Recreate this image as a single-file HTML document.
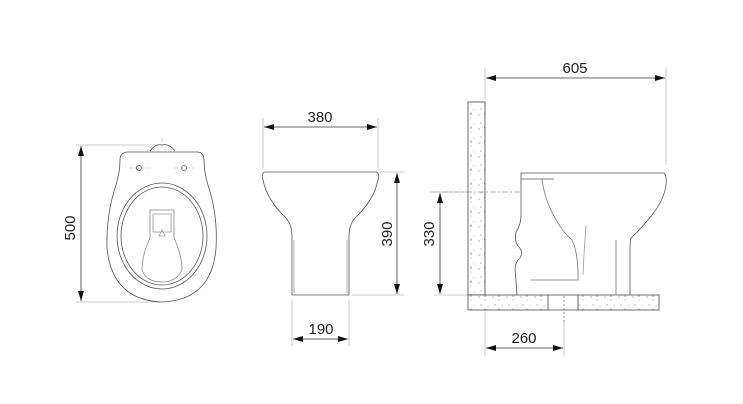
<!DOCTYPE html>
<html><head><meta charset="utf-8"><style>
html,body{margin:0;padding:0;background:#fff;}
svg{display:block;}
text{font-family:"Liberation Sans",sans-serif;font-size:15px;fill:#222;}
</style></head><body>
<svg width="743" height="404" viewBox="0 0 743 404" xmlns="http://www.w3.org/2000/svg">
<defs>
<marker id="a" markerWidth="10" markerHeight="6" refX="0" refY="3" orient="auto" markerUnits="userSpaceOnUse"><path d="M0,3 L10,0 L10,6 z" fill="#111"/></marker>
<marker id="b" markerWidth="10" markerHeight="6" refX="10" refY="3" orient="auto" markerUnits="userSpaceOnUse"><path d="M10,3 L0,0 L0,6 z" fill="#111"/></marker>
<pattern id="c" width="14" height="14" patternUnits="userSpaceOnUse">
<rect width="14" height="14" fill="#fff"/>
<circle cx="3" cy="3" r="0.6" fill="#888"/><circle cx="9" cy="6" r="0.5" fill="#888"/><circle cx="5" cy="11" r="0.6" fill="#888"/><circle cx="12" cy="12" r="0.5" fill="#888"/>
<path d="M8,1 l2,0 l-1,2z" fill="none" stroke="#999" stroke-width="0.5"/>
</pattern>
</defs>
<g stroke="#bbb" stroke-width="0.8" fill="none">
<line x1="76" y1="145" x2="158" y2="145"/>
<line x1="76" y1="302" x2="160" y2="302"/>
<line x1="263" y1="118" x2="263" y2="168"/>
<line x1="378" y1="118" x2="378" y2="168"/>
<line x1="380" y1="172" x2="404" y2="172"/>
<line x1="352" y1="295" x2="404" y2="295"/>
<line x1="292" y1="300" x2="292" y2="346"/>
<line x1="349" y1="300" x2="349" y2="346"/>
<line x1="485" y1="68" x2="485" y2="100"/>
<line x1="666" y1="68" x2="666" y2="165"/>
<line x1="434" y1="192" x2="470" y2="192"/>
<line x1="434" y1="295" x2="470" y2="295"/>
<line x1="485" y1="311" x2="485" y2="356"/>
<line x1="564" y1="322" x2="564" y2="356"/>
</g>
<g stroke="#333" stroke-width="0.8">
<line x1="81" y1="146" x2="81" y2="301" marker-start="url(#a)" marker-end="url(#b)"/>
<line x1="264" y1="127" x2="377" y2="127" marker-start="url(#a)" marker-end="url(#b)"/>
<line x1="397" y1="173" x2="397" y2="294" marker-start="url(#a)" marker-end="url(#b)"/>
<line x1="293" y1="339" x2="348" y2="339" marker-start="url(#a)" marker-end="url(#b)"/>
<line x1="486" y1="78" x2="665" y2="78" marker-start="url(#a)" marker-end="url(#b)"/>
<line x1="440" y1="193" x2="440" y2="294" marker-start="url(#a)" marker-end="url(#b)"/>
<line x1="486" y1="348" x2="563" y2="348" marker-start="url(#a)" marker-end="url(#b)"/>
</g>
<text x="75" y="228" text-anchor="middle" transform="rotate(-90 75 228)">500</text>
<text x="320" y="122" text-anchor="middle">380</text>
<text x="392" y="234" text-anchor="middle" transform="rotate(-90 392 234)">390</text>
<text x="321" y="334" text-anchor="middle">190</text>
<text x="575" y="73" text-anchor="middle">605</text>
<text x="434" y="234" text-anchor="middle" transform="rotate(-90 434 234)">330</text>
<text x="524" y="343" text-anchor="middle">260</text>

<g stroke="#555" stroke-width="0.8" fill="none">
<path d="M127,152 L198,152 Q204,153 204,160 Q204,172 208,185 Q218,215 216,248 Q212,300 162,302 Q112,300 107,248 Q106,215 116,185 Q120,172 120,160 Q120,153 127,152 Z"/>
<ellipse cx="162" cy="236" rx="45" ry="53"/>
<ellipse cx="162" cy="236" rx="41" ry="49"/>
<path d="M150,151 Q156,143 162,145 Q169,143 175,151"/>
<circle cx="139" cy="168" r="2.5"/><circle cx="184" cy="168" r="2.5"/>
<path d="M150,210 L174,210 L174,238 Q182,255 182,270 Q176,282 162,282 Q146,282 142,270 Q142,255 150,238 Z" stroke="#888"/>
<path d="M153,214 L171,214 L171,232 L153,232 Z" stroke="#999"/>
<path d="M159,236 L162,230 L165,236 Z" stroke="#999"/>
</g>
<g stroke="#aaa" stroke-width="0.6" fill="none" stroke-dasharray="4,2">
<line x1="129" y1="168" x2="149" y2="168"/><line x1="174" y1="168" x2="194" y2="168"/>
<line x1="162" y1="138" x2="162" y2="150"/>
</g>

<g stroke="#555" stroke-width="0.8" fill="none">
<path d="M265,172 L376,172 Q380,173 378,180 Q374,200 355,218 Q349,225 349,235 L349,295 L292,295 L292,235 Q292,225 286,218 Q267,200 263,180 Q261,173 265,172 Z"/>
<line x1="294" y1="240" x2="294" y2="293" stroke="#999"/>
<line x1="347" y1="240" x2="347" y2="293" stroke="#999"/>
</g>

<rect x="468" y="102" width="17" height="193" fill="url(#c)" stroke="#444" stroke-width="0.8"/>
<path d="M468,295 L548,295 L548,310 L468,310 Z" fill="url(#c)" stroke="#444" stroke-width="0.8"/>
<path d="M578,295 L659,295 L659,310 L578,310 Z" fill="url(#c)" stroke="#444" stroke-width="0.8"/>
<line x1="548" y1="295" x2="578" y2="295" stroke="#444" stroke-width="0.8"/>
<line x1="548" y1="310" x2="578" y2="310" stroke="#444" stroke-width="0.8"/>
<line x1="564" y1="296" x2="564" y2="322" stroke="#777" stroke-width="0.8" stroke-dasharray="2,2"/>
<line x1="430" y1="192" x2="521" y2="192" stroke="#999" stroke-width="0.7" stroke-dasharray="6,2,2,2"/>
<g stroke="#555" stroke-width="0.8" fill="none">
<path d="M517,295 Q516,280 515,270 Q515,262 520,258 Q524,252 518,246 Q514,240 516,232 Q521,225 521,215 L521,173 L664,173 Q667,175 666,185 Q664,200 652,215 Q640,230 631,238 Q630,242 630,250 L630,295"/>
<line x1="521" y1="179" x2="554" y2="179"/>
<path d="M542,179 Q544,195 550,208 Q560,230 572,240 Q577,250 578,270 L578,280 L531,280" stroke="#777"/>
<line x1="616" y1="240" x2="616" y2="295" stroke="#777"/>
<path d="M586,226 Q584,250 583,275" stroke="#999"/>
</g>
</svg>
</body></html>
